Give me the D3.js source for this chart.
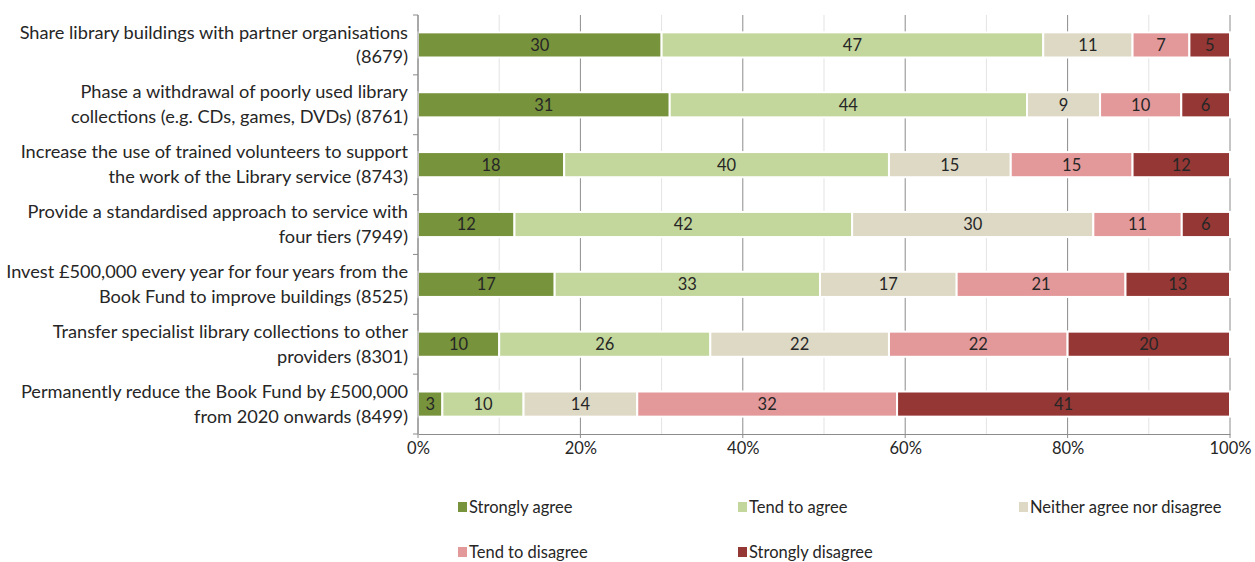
<!DOCTYPE html>
<html>
<head>
<meta charset="utf-8">
<script src="https://cdn.jsdelivr.net/npm/d3@7"></script>
<style>
  body { margin: 0; background: #fff; }
  svg text { font-family: "Lato", "Liberation Sans", sans-serif; fill: #262626; }
</style>
</head>
<body>
<svg id="chart" width="1255" height="562"></svg>
<script>
// statements, each split over two lines as in the source
const statements = [
    ["Share library buildings with partner organisations", "(8679)"],
    ["Phase a withdrawal of poorly used library", "collections (e.g. CDs, games, DVDs) (8761)"],
    ["Increase the use of trained volunteers to support", "the work of the Library service (8743)"],
    ["Provide a standardised approach to service with", "four tiers (7949)"],
    ["Invest £500,000 every year for four years from the", "Book Fund to improve buildings (8525)"],
    ["Transfer specialist library collections to other", "providers (8301)"],
    ["Permanently reduce the Book Fund by £500,000", "from 2020 onwards (8499)"]
]
const responses = ["Strongly agree", "Tend to agree", "Neither agree nor disagree", "Tend to disagree", "Strongly disagree"]
const colors = ["#77933c", "#c3d69b", "#ddd9c4", "#e3999a", "#953735"]

// % per answer, one array per statement row
const stronglyAgree = [30, 31, 18, 12, 17, 10, 3]
const tendAgree = [47, 44, 40, 42, 33, 26, 10]
const neither = [11, 9, 15, 30, 17, 22, 14]
const tendDisagree = [7, 10, 15, 11, 21, 22, 32]
const stronglyDisagree = [5, 6, 12, 6, 13, 20, 41]

const xTicks = [0, 0.2, 0.4, 0.6, 0.8, 1]

let margin = { left: 418, right: 25, top: 15, bottom: 128 }
let width = 1255, height = 562

let rows = statements.map((s, i) => ({
    id: i,
    "Strongly agree": stronglyAgree[i],
    "Tend to agree": tendAgree[i],
    "Neither agree nor disagree": neither[i],
    "Tend to disagree": tendDisagree[i],
    "Strongly disagree": stronglyDisagree[i]
}))

let svg = d3.select("#chart")

let xScale = d3.scaleLinear().domain([0, 1]).range([margin.left, width - margin.right])
let yScale = d3.scaleBand().domain(rows.map(d => d.id))
    .range([margin.top, height - margin.bottom]).paddingInner(0.58).paddingOuter(0.29)
let zScale = d3.scaleOrdinal().domain(responses).range(colors)

let series = d3.stack().keys(responses).offset(d3.stackOffsetExpand)(rows)

// 网格线
let grid = svg.append("g")
d3.range(0, 1.001, 0.1).forEach((v, i) => {
    grid.append("line")
        .attr("x1", xScale(v)).attr("x2", xScale(v))
        .attr("y1", margin.top).attr("y2", height - margin.bottom + (i % 2 == 0 ? 4 : 0))
        .attr("stroke", i % 2 == 0 ? "#8c8c8c" : "#e3e3e3")
        .attr("stroke-width", 1)
})

// 条形
series.forEach(s => {
    svg.append("g")
        .selectAll("rect")
        .data(s)
        .enter()
        .append("rect")
        .attr("x", d => xScale(d[0]))
        .attr("y", d => yScale(d.data.id))
        .attr("width", d => xScale(d[1]) - xScale(d[0]))
        .attr("height", yScale.bandwidth())
        .attr("fill", zScale(s.key))
        .attr("stroke", "#fff")
        .attr("stroke-width", 2)
})

// 数值标签
series.forEach(s => {
    svg.append("g")
        .selectAll("text")
        .data(s)
        .enter()
        .append("text")
        .attr("x", d => (xScale(d[0]) + xScale(d[1])) / 2)
        .attr("y", d => yScale(d.data.id) + yScale.bandwidth() / 2)
        .attr("dy", "0.36em")
        .attr("text-anchor", "middle")
        .style("font-size", "16.5px")
        .text(d => d.data[s.key])
})

// 坐标轴
svg.append("g")
    .attr("transform", "translate(0," + (height - margin.bottom) + ")")
    .call(d3.axisBottom(xScale).tickValues(xTicks).tickFormat(d3.format(".0%")).tickSize(0).tickPadding(8))
    .call(g => g.select(".domain").attr("stroke", "#8c8c8c"))
    .call(g => g.selectAll("text").style("font-size", "16.5px").attr("fill", "#404040"))

let yAxis = svg.append("g")
yAxis.append("line")
    .attr("x1", margin.left).attr("x2", margin.left)
    .attr("y1", margin.top).attr("y2", height - margin.bottom)
    .attr("stroke", "#8c8c8c")
d3.range(rows.length + 1).forEach(i => {
    let y = margin.top + i * yScale.step()
    yAxis.append("line")
        .attr("x1", margin.left - 5).attr("x2", margin.left)
        .attr("y1", y).attr("y2", y)
        .attr("stroke", "#8c8c8c")
})

svg.append("g")
    .selectAll("text")
    .data(statements)
    .enter()
    .append("text")
    .attr("x", margin.left - 10)
    .attr("y", (d, i) => yScale(i) + yScale.bandwidth() / 2)
    .attr("text-anchor", "end")
    .style("font-size", "18.2px")
    .each(function (d) {
        let t = d3.select(this)
        t.append("tspan").attr("x", margin.left - 10).attr("dy", "-0.35em").text(d[0])
        t.append("tspan").attr("x", margin.left - 10).attr("dy", "1.37em").text(d[1])
    })

// 图例
let legendPos = [[458, 507], [738, 507], [1019, 507], [458, 552], [738, 552]]
let legend = svg.append("g")
responses.forEach((r, i) => {
    let g = legend.append("g").attr("transform", "translate(" + legendPos[i][0] + "," + legendPos[i][1] + ")")
    g.append("rect").attr("x", 0).attr("y", -5).attr("width", 9).attr("height", 10).attr("fill", zScale(r))
    g.append("text").attr("x", 11).attr("y", 0).attr("dy", "0.35em").style("font-size", "16.5px").text(r)
})
</script>
</body>
</html>
